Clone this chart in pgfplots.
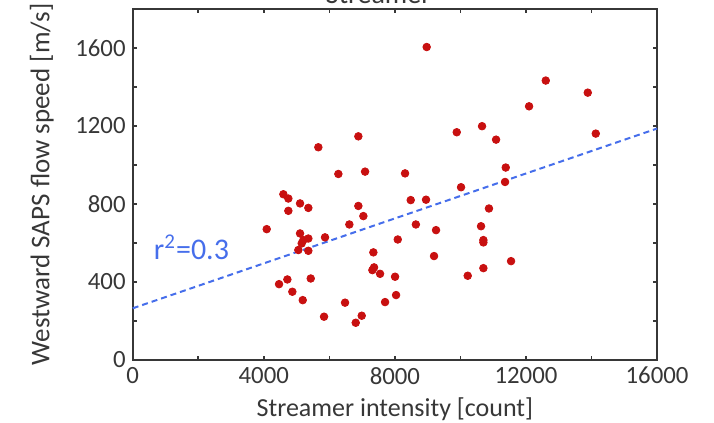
\documentclass[border=0pt]{standalone}
\usepackage{pgfplots}
\pgfplotsset{compat=1.18}
\usepackage{fontspec}
\setmainfont{Carlito}
\definecolor{txt}{RGB}{55,55,55}
\definecolor{dotred}{RGB}{200,16,16}
\definecolor{fitblue}{RGB}{70,110,235}
\begin{document}
\begin{tikzpicture}
\begin{axis}[
  at={(0,0)}, anchor=south west,
  scale only axis, width=262.2pt, height=175.5pt,
  xmin=0, xmax=16000, ymin=0, ymax=1800,
  xtick={0,4000,8000,12000,16000},
  minor xtick={2000,6000,10000,14000},
  ytick={0,400,800,1200,1600},
  minor ytick={200,600,1000,1400},
  tick align=inside, major tick length=2.2pt, minor tick length=2.2pt,
  tick style={color=txt, line width=0.8pt},
  axis line style={color=txt, line width=1pt},
  scaled x ticks=false, scaled y ticks=false,
  /pgf/number format/assume math mode=true,
  /pgf/number format/1000 sep={},
  tick label style={font=\fontsize{12.4}{13}\selectfont, color=txt},
  xlabel={Streamer intensity [count]},
  ylabel={Westward SAPS flow speed [m/s]},
  xlabel style={font=\fontsize{13}{14}\selectfont, color=txt, yshift=0pt},
  ylabel style={font=\fontsize{13.5}{14}\selectfont, color=txt, yshift=4pt},
  clip=false,
]
\addplot[only marks, mark=*, mark size=1.9pt, color=dotred] coordinates {
(4089,671) (4465,389) (4597,850) (4719,413) (4749,828) (4749,765)
(4871,350) (5054,564) (5106,803) (5106,649) (5157,598) (5188,307)
(5207,615) (5359,780) (5359,623) (5359,560) (5432,418) (5664,1091)
(5838,222) (5868,629) (6275,954) (6479,294) (6610,695) (6805,191)
(6885,790) (6885,1147) (6988,227) (7038,738) (7090,966) (7313,461)
(7343,552) (7364,475) (7547,442) (7700,297) (8005,427) (8036,333)
(8087,618) (8310,957) (8483,820) (8640,695) (8950,822) (8970,1605)
(9194,533) (9255,666) (9887,1168) (10018,886) (10222,432) (10628,686)
(10659,1199) (10700,615) (10700,603) (10700,471) (10870,777) (11087,1130)
(11361,913) (11382,987) (11544,507) (12094,1301) (12603,1433) (13885,1371)
(14129,1161)
};
\addplot[color=fitblue, line width=1pt, dash pattern=on 3pt off 2pt] coordinates {(0,265) (16000,1187)};
\node[color=fitblue, font=\fontsize{15}{16}\selectfont, anchor=base] at (axis cs:1794,517) {r\textsuperscript{2}=0.3};
\node[color=txt, font=\fontsize{14}{15}\selectfont, anchor=base] at (axis cs:7500,1830) {Streamer};
\end{axis}
\pgfresetboundingbox
\useasboundingbox (-66.35pt,-31.5pt) rectangle (290.65pt,180pt);
\end{tikzpicture}
\end{document}
